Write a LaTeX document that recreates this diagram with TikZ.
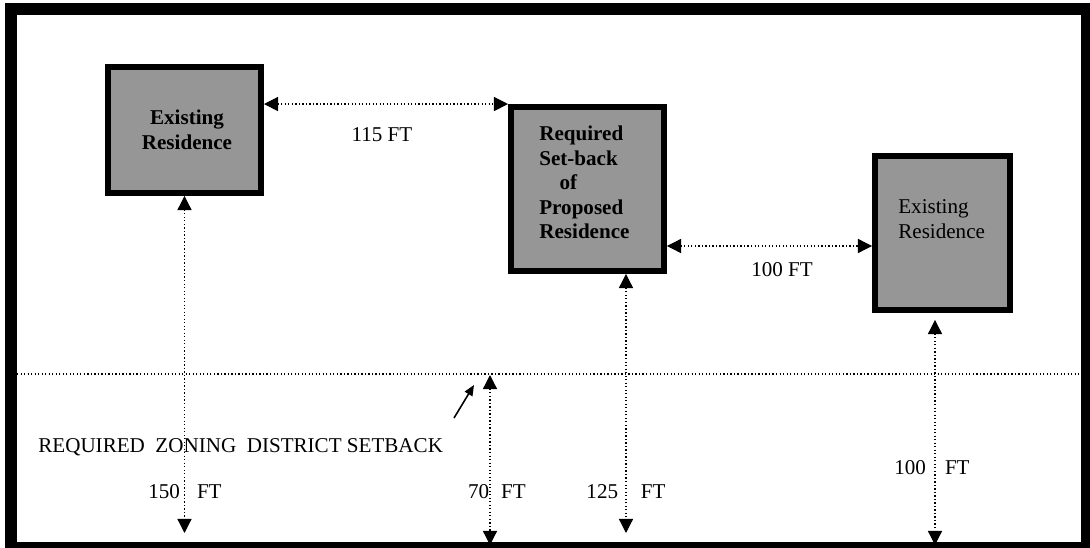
\documentclass[tikz,border=0pt]{standalone}
\usepackage{fontspec}
\setmainfont{Liberation Serif}
\usetikzlibrary{arrows.meta}
\definecolor{HouseGray}{HTML}{969696}

\tikzset{
  house/.style={draw=black, fill=HouseGray, line width=3.4pt, inner sep=0pt},
  housetext/.style={inner sep=0pt, font=\fontsize{12}{14}\selectfont},
  dimline/.style={line width=0.7pt, dash pattern=on 0.7pt off 1.3pt,
    {Triangle[length=8pt,width=8pt]}-{Triangle[length=8pt,width=8pt]}},
  dimlabel/.style={inner sep=0pt, font=\fontsize{12}{14}\selectfont},
}

\begin{document}
\begin{tikzpicture}[x=0.02cm, y=-0.02cm]
  \useasboundingbox (0,0) rectangle (1090,548);

  % lot boundary and zoning setback line
  \draw[line width=6.8pt] (11,9) rectangle (1087,548);
  \coordinate (setbackL) at (17,374);
  \coordinate (setbackR) at (1081,374);
  \draw[line width=0.7pt, dash pattern=on 0.7pt off 1.3pt] (setbackL) -- (setbackR);

  % houses
  \node[house, minimum width=3.06cm, minimum height=2.52cm] (house1) at (184.5,130) {};
  \node[house, minimum width=3.06cm, minimum height=3.28cm] (proposed) at (587.5,189) {};
  \node[house, minimum width=2.70cm, minimum height=3.08cm] (house2) at (942.5,233) {};

  \node[housetext, align=center, font=\fontsize{12}{14}\selectfont\bfseries] (house1text) at (187,130) {Existing\\Residence};
  \node[housetext, align=left, anchor=west, font=\fontsize{12}{14}\selectfont\bfseries] (proposedtext) at (539,182.5) {Required\\Set-back\\\hspace*{11.5pt}of\\Proposed\\Residence};
  \node[housetext, align=left, anchor=west] (house2text) at (898,219) {Existing\\Residence};

  % distances between houses
  \coordinate (gap2) at (0,246);
  \draw[dimline] (house1.east |- proposed.north west) -- (proposed.north west);
  \draw[dimline] (proposed.east |- gap2) -- (house2.west |- gap2);
  \node[dimlabel] (gap1label) at (382,135) {115 FT};
  \node[dimlabel] (gap2label) at (782,270) {100 FT};

  % distances to the lot line
  \coordinate (lotA) at (184.5,533);
  \coordinate (minsetback) at (490,375);
  \coordinate (lotB) at (490,545);
  \coordinate (lotC) at (626,533);
  \coordinate (lotD) at (935,545);
  \draw[dimline] (house1.south) -- (lotA);
  \draw[dimline] (minsetback) -- (lotB);
  \draw[dimline] (proposed.south -| lotC) -- (lotC);
  \draw[dimline, shorten <=0.14cm] (house2.south -| lotD) -- (lotD);

  \node[dimlabel] (lotAlabel) at (185,492) {150\hspace{9.7pt}FT};
  \node[dimlabel] (lotBlabel) at (497,492) {70\hspace{6.8pt}FT};
  \node[dimlabel] (lotClabel) at (626,492) {125\hspace{13pt}FT};
  \node[dimlabel] (lotDlabel) at (932,468) {100\hspace{10.8pt}FT};

  % zoning setback callout
  \node[dimlabel, anchor=west] (setbacklabel) at (38,447) {REQUIRED\ \ ZONING\ \ DISTRICT SETBACK};
  \coordinate (pointerTail) at (454,418);
  \coordinate (pointerTip) at (474,385);
  \draw[line width=0.9pt, -{Triangle[length=6pt,width=5pt]}] (pointerTail) -- (pointerTip);
\end{tikzpicture}
\end{document}
